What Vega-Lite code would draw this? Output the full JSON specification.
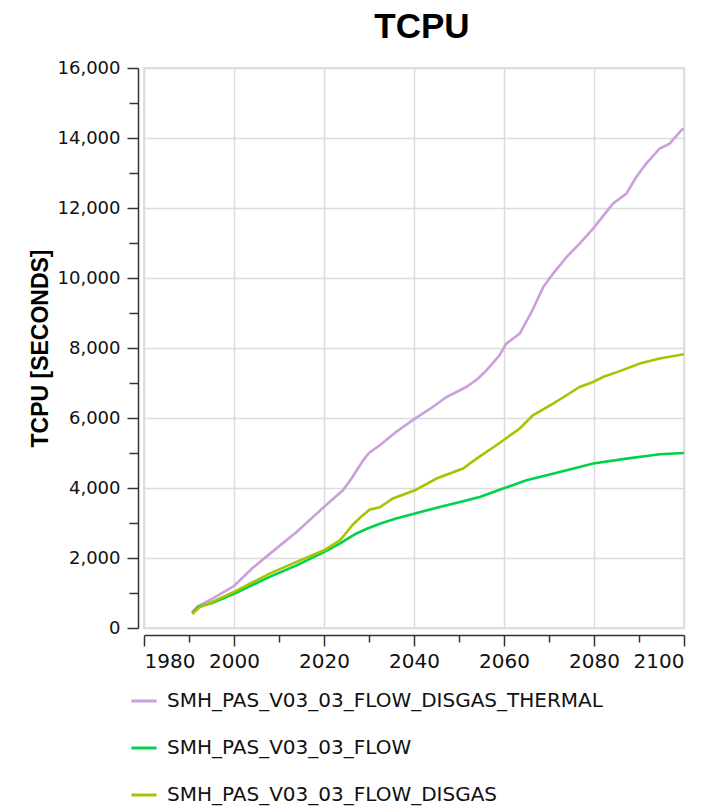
{
  "$schema": "https://vega.github.io/schema/vega-lite/v6.json",
  "autosize": "none",
  "width": 540,
  "height": 560,
  "padding": {"left": 144, "top": 68, "right": 44, "bottom": 179},
  "background": "white",
  "title": {
    "text": "TCPU",
    "font": "Liberation Sans",
    "fontSize": 35,
    "fontWeight": "bold",
    "color": "#000000",
    "frame": "group",
    "baseline": "alphabetic",
    "offset": -14,
    "dx": 8,
    "anchor": "middle"
  },
  "config": {
    "view": {"stroke": "#d6d6d6", "strokeWidth": 1.5},
    "axis": {
      "labelFont": "DejaVu Sans",
      "labelFontSize": 18,
      "labelColor": "#111111",
      "domainColor": "#333333",
      "domainWidth": 1.5,
      "tickColor": "#333333",
      "tickWidth": 1.5,
      "gridColor": "#dcdcdc",
      "gridWidth": 1.5
    }
  },
  "data": {
    "values": [
      {"series": "SMH_PAS_V03_03_FLOW_DISGAS_THERMAL", "year": 1990.7, "value": 450},
      {"series": "SMH_PAS_V03_03_FLOW_DISGAS_THERMAL", "year": 1992, "value": 620},
      {"series": "SMH_PAS_V03_03_FLOW_DISGAS_THERMAL", "year": 1995.2, "value": 840},
      {"series": "SMH_PAS_V03_03_FLOW_DISGAS_THERMAL", "year": 2000, "value": 1200},
      {"series": "SMH_PAS_V03_03_FLOW_DISGAS_THERMAL", "year": 2004, "value": 1700},
      {"series": "SMH_PAS_V03_03_FLOW_DISGAS_THERMAL", "year": 2008, "value": 2125},
      {"series": "SMH_PAS_V03_03_FLOW_DISGAS_THERMAL", "year": 2013.9, "value": 2745},
      {"series": "SMH_PAS_V03_03_FLOW_DISGAS_THERMAL", "year": 2020, "value": 3460},
      {"series": "SMH_PAS_V03_03_FLOW_DISGAS_THERMAL", "year": 2024.2, "value": 3935},
      {"series": "SMH_PAS_V03_03_FLOW_DISGAS_THERMAL", "year": 2026, "value": 4250},
      {"series": "SMH_PAS_V03_03_FLOW_DISGAS_THERMAL", "year": 2028.7, "value": 4790},
      {"series": "SMH_PAS_V03_03_FLOW_DISGAS_THERMAL", "year": 2030, "value": 5000},
      {"series": "SMH_PAS_V03_03_FLOW_DISGAS_THERMAL", "year": 2032.4, "value": 5220},
      {"series": "SMH_PAS_V03_03_FLOW_DISGAS_THERMAL", "year": 2036, "value": 5600},
      {"series": "SMH_PAS_V03_03_FLOW_DISGAS_THERMAL", "year": 2040.2, "value": 5980},
      {"series": "SMH_PAS_V03_03_FLOW_DISGAS_THERMAL", "year": 2044, "value": 6300},
      {"series": "SMH_PAS_V03_03_FLOW_DISGAS_THERMAL", "year": 2047.2, "value": 6600},
      {"series": "SMH_PAS_V03_03_FLOW_DISGAS_THERMAL", "year": 2051.6, "value": 6885},
      {"series": "SMH_PAS_V03_03_FLOW_DISGAS_THERMAL", "year": 2054, "value": 7100},
      {"series": "SMH_PAS_V03_03_FLOW_DISGAS_THERMAL", "year": 2056.1, "value": 7360},
      {"series": "SMH_PAS_V03_03_FLOW_DISGAS_THERMAL", "year": 2059, "value": 7790},
      {"series": "SMH_PAS_V03_03_FLOW_DISGAS_THERMAL", "year": 2060.5, "value": 8125},
      {"series": "SMH_PAS_V03_03_FLOW_DISGAS_THERMAL", "year": 2063.5, "value": 8410},
      {"series": "SMH_PAS_V03_03_FLOW_DISGAS_THERMAL", "year": 2066.4, "value": 9100},
      {"series": "SMH_PAS_V03_03_FLOW_DISGAS_THERMAL", "year": 2068.7, "value": 9740},
      {"series": "SMH_PAS_V03_03_FLOW_DISGAS_THERMAL", "year": 2070.9, "value": 10125},
      {"series": "SMH_PAS_V03_03_FLOW_DISGAS_THERMAL", "year": 2073.9, "value": 10600},
      {"series": "SMH_PAS_V03_03_FLOW_DISGAS_THERMAL", "year": 2076.8, "value": 10980},
      {"series": "SMH_PAS_V03_03_FLOW_DISGAS_THERMAL", "year": 2079.8, "value": 11410},
      {"series": "SMH_PAS_V03_03_FLOW_DISGAS_THERMAL", "year": 2084.2, "value": 12125},
      {"series": "SMH_PAS_V03_03_FLOW_DISGAS_THERMAL", "year": 2087.2, "value": 12410},
      {"series": "SMH_PAS_V03_03_FLOW_DISGAS_THERMAL", "year": 2089.4, "value": 12885},
      {"series": "SMH_PAS_V03_03_FLOW_DISGAS_THERMAL", "year": 2091.6, "value": 13270},
      {"series": "SMH_PAS_V03_03_FLOW_DISGAS_THERMAL", "year": 2094.6, "value": 13700},
      {"series": "SMH_PAS_V03_03_FLOW_DISGAS_THERMAL", "year": 2096.8, "value": 13840},
      {"series": "SMH_PAS_V03_03_FLOW_DISGAS_THERMAL", "year": 2099.4, "value": 14220},
      {"series": "SMH_PAS_V03_03_FLOW_DISGAS_THERMAL", "year": 2100, "value": 14280},

      {"series": "SMH_PAS_V03_03_FLOW", "year": 1990.7, "value": 420},
      {"series": "SMH_PAS_V03_03_FLOW", "year": 1992, "value": 600},
      {"series": "SMH_PAS_V03_03_FLOW", "year": 1995.3, "value": 720},
      {"series": "SMH_PAS_V03_03_FLOW", "year": 2000, "value": 980},
      {"series": "SMH_PAS_V03_03_FLOW", "year": 2007.9, "value": 1460},
      {"series": "SMH_PAS_V03_03_FLOW", "year": 2013.9, "value": 1790},
      {"series": "SMH_PAS_V03_03_FLOW", "year": 2020, "value": 2170},
      {"series": "SMH_PAS_V03_03_FLOW", "year": 2023.5, "value": 2410},
      {"series": "SMH_PAS_V03_03_FLOW", "year": 2025, "value": 2530},
      {"series": "SMH_PAS_V03_03_FLOW", "year": 2027.2, "value": 2700},
      {"series": "SMH_PAS_V03_03_FLOW", "year": 2029.4, "value": 2830},
      {"series": "SMH_PAS_V03_03_FLOW", "year": 2032.4, "value": 2980},
      {"series": "SMH_PAS_V03_03_FLOW", "year": 2036, "value": 3130},
      {"series": "SMH_PAS_V03_03_FLOW", "year": 2040.2, "value": 3270},
      {"series": "SMH_PAS_V03_03_FLOW", "year": 2045.7, "value": 3460},
      {"series": "SMH_PAS_V03_03_FLOW", "year": 2050, "value": 3590},
      {"series": "SMH_PAS_V03_03_FLOW", "year": 2054.6, "value": 3745},
      {"series": "SMH_PAS_V03_03_FLOW", "year": 2059.8, "value": 3985},
      {"series": "SMH_PAS_V03_03_FLOW", "year": 2065, "value": 4220},
      {"series": "SMH_PAS_V03_03_FLOW", "year": 2072.4, "value": 4460},
      {"series": "SMH_PAS_V03_03_FLOW", "year": 2079.8, "value": 4700},
      {"series": "SMH_PAS_V03_03_FLOW", "year": 2087.2, "value": 4840},
      {"series": "SMH_PAS_V03_03_FLOW", "year": 2094.6, "value": 4965},
      {"series": "SMH_PAS_V03_03_FLOW", "year": 2100, "value": 5000},

      {"series": "SMH_PAS_V03_03_FLOW_DISGAS", "year": 1990.7, "value": 400},
      {"series": "SMH_PAS_V03_03_FLOW_DISGAS", "year": 1992.4, "value": 600},
      {"series": "SMH_PAS_V03_03_FLOW_DISGAS", "year": 1995.3, "value": 750},
      {"series": "SMH_PAS_V03_03_FLOW_DISGAS", "year": 2000, "value": 1030},
      {"series": "SMH_PAS_V03_03_FLOW_DISGAS", "year": 2007.9, "value": 1555},
      {"series": "SMH_PAS_V03_03_FLOW_DISGAS", "year": 2013.9, "value": 1890},
      {"series": "SMH_PAS_V03_03_FLOW_DISGAS", "year": 2020, "value": 2220},
      {"series": "SMH_PAS_V03_03_FLOW_DISGAS", "year": 2023.5, "value": 2505},
      {"series": "SMH_PAS_V03_03_FLOW_DISGAS", "year": 2024.5, "value": 2650},
      {"series": "SMH_PAS_V03_03_FLOW_DISGAS", "year": 2026.4, "value": 2950},
      {"series": "SMH_PAS_V03_03_FLOW_DISGAS", "year": 2028, "value": 3150},
      {"series": "SMH_PAS_V03_03_FLOW_DISGAS", "year": 2030.1, "value": 3380},
      {"series": "SMH_PAS_V03_03_FLOW_DISGAS", "year": 2032.4, "value": 3450},
      {"series": "SMH_PAS_V03_03_FLOW_DISGAS", "year": 2035.3, "value": 3700},
      {"series": "SMH_PAS_V03_03_FLOW_DISGAS", "year": 2040.2, "value": 3935},
      {"series": "SMH_PAS_V03_03_FLOW_DISGAS", "year": 2045, "value": 4270},
      {"series": "SMH_PAS_V03_03_FLOW_DISGAS", "year": 2050.9, "value": 4555},
      {"series": "SMH_PAS_V03_03_FLOW_DISGAS", "year": 2053.9, "value": 4840},
      {"series": "SMH_PAS_V03_03_FLOW_DISGAS", "year": 2058.3, "value": 5220},
      {"series": "SMH_PAS_V03_03_FLOW_DISGAS", "year": 2063.5, "value": 5700},
      {"series": "SMH_PAS_V03_03_FLOW_DISGAS", "year": 2066.4, "value": 6075},
      {"series": "SMH_PAS_V03_03_FLOW_DISGAS", "year": 2070.9, "value": 6410},
      {"series": "SMH_PAS_V03_03_FLOW_DISGAS", "year": 2073.9, "value": 6650},
      {"series": "SMH_PAS_V03_03_FLOW_DISGAS", "year": 2076.8, "value": 6885},
      {"series": "SMH_PAS_V03_03_FLOW_DISGAS", "year": 2079.8, "value": 7030},
      {"series": "SMH_PAS_V03_03_FLOW_DISGAS", "year": 2082, "value": 7170},
      {"series": "SMH_PAS_V03_03_FLOW_DISGAS", "year": 2085.7, "value": 7340},
      {"series": "SMH_PAS_V03_03_FLOW_DISGAS", "year": 2090.2, "value": 7555},
      {"series": "SMH_PAS_V03_03_FLOW_DISGAS", "year": 2094.6, "value": 7700},
      {"series": "SMH_PAS_V03_03_FLOW_DISGAS", "year": 2100, "value": 7820}
    ]
  },
  "mark": {"type": "line", "strokeWidth": 2.6, "clip": true},
  "encoding": {
    "x": {
      "field": "year",
      "type": "quantitative",
      "scale": {"domain": [1980, 2100], "nice": false, "zero": false},
      "axis": {
        "title": null,
        "offset": 7,
        "values": [1980, 1990, 2000, 2010, 2020, 2030, 2040, 2050, 2060, 2070, 2080, 2090, 2100],
        "format": "d",
        "labelFontSize": 20,
        "labelExpr": "datum.value % 20 === 0 ? datum.label : ''",
        "labelPadding": 5,
        "tickSize": {"condition": {"test": "datum.value % 20 === 0", "value": 11}, "value": 7},
        "gridOpacity": {"condition": {"test": "datum.value % 20 === 0", "value": 1}, "value": 0}
      }
    },
    "y": {
      "field": "value",
      "type": "quantitative",
      "scale": {"domain": [0, 16000], "nice": false},
      "axis": {
        "title": "TCPU [SECONDS]",
        "titleFont": "Liberation Sans",
        "titleFontSize": 23,
        "titleFontWeight": "bold",
        "titleColor": "#000000",
        "titlePadding": 5,
        "offset": 6,
        "values": [0, 1000, 2000, 3000, 4000, 5000, 6000, 7000, 8000, 9000, 10000, 11000, 12000, 13000, 14000, 15000, 16000],
        "format": ",d",
        "labelExpr": "datum.value % 2000 === 0 ? datum.label : ''",
        "labelPadding": 7,
        "tickSize": {"condition": {"test": "datum.value % 2000 === 0", "value": 11}, "value": 9},
        "gridOpacity": {"condition": {"test": "datum.value % 2000 === 0", "value": 1}, "value": 0}
      }
    },
    "color": {
      "field": "series",
      "type": "nominal",
      "scale": {
        "domain": ["SMH_PAS_V03_03_FLOW_DISGAS_THERMAL", "SMH_PAS_V03_03_FLOW", "SMH_PAS_V03_03_FLOW_DISGAS"],
        "range": ["#c9a0d9", "#00d24a", "#a6c400"]
      },
      "legend": {
        "title": null,
        "orient": "none",
        "legendX": -14,
        "legendY": 619,
        "direction": "vertical",
        "padding": 0,
        "symbolType": "stroke",
        "symbolSize": 625,
        "symbolStrokeWidth": 3,
        "rowPadding": 23,
        "labelFont": "DejaVu Sans",
        "labelFontSize": 20,
        "labelColor": "#111111",
        "labelOffset": 9,
        "labelLimit": 600
      }
    }
  }
}
